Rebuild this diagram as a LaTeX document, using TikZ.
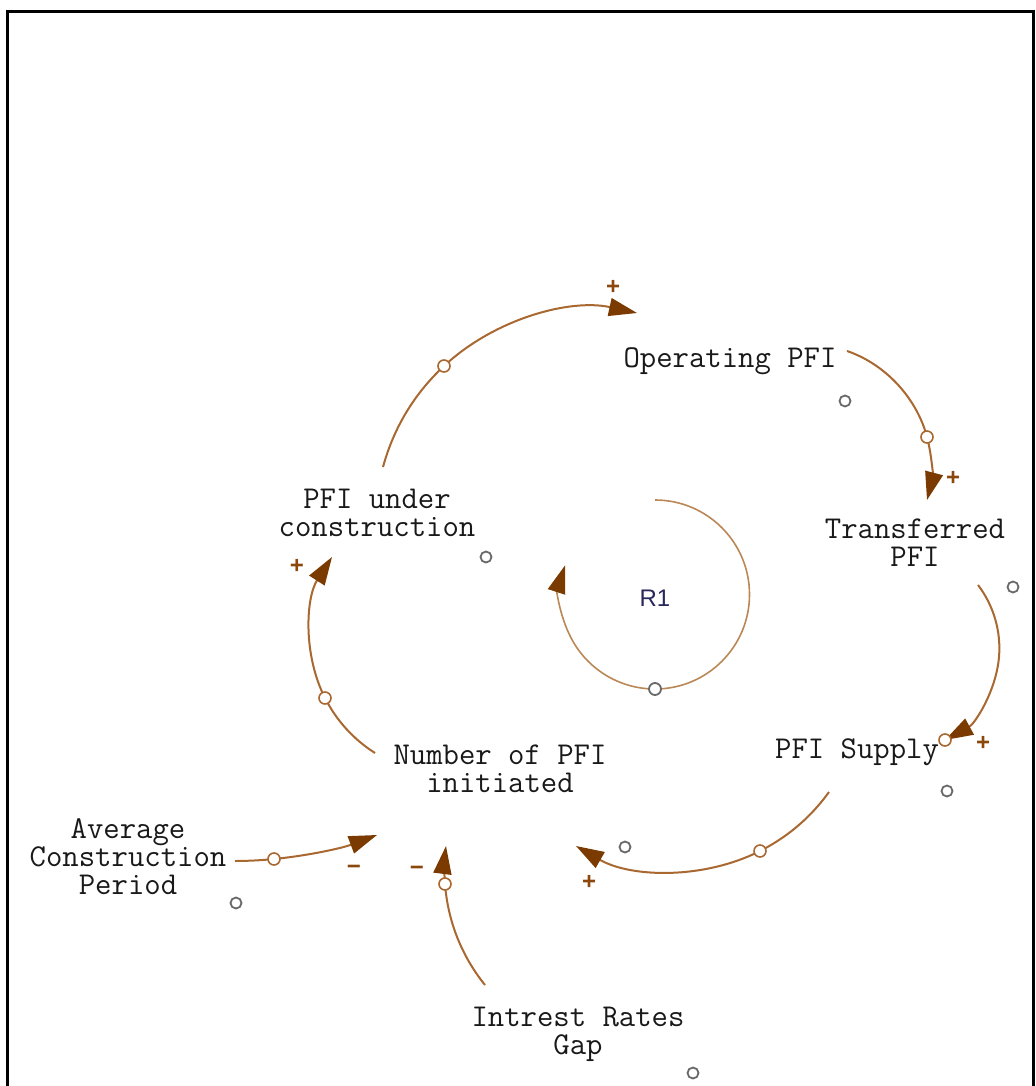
\documentclass[tikz,border=0pt]{standalone}
\usepackage{fontspec}
\newfontfamily\loopfont{Liberation Sans}
\usetikzlibrary{arrows.meta,calc}
\definecolor{linkcol}{RGB}{168,104,48}
\definecolor{tipcol}{RGB}{122,58,0}
\definecolor{signcol}{RGB}{140,72,12}
\definecolor{loopcol}{RGB}{186,136,86}
\definecolor{ghostcol}{RGB}{105,105,105}
\definecolor{loopname}{RGB}{40,40,90}

\begin{document}
\begin{tikzpicture}[x=0.5pt,y=0.5pt]
\tikzset{
  var/.style={align=center,inner sep=0pt,text=black!90,
    font=\ttfamily\fontsize{15.9}{14}\selectfont},
  link/.style={draw=linkcol,line width=1pt,looseness=0.88,
    -{Triangle[length=14pt,width=9pt,color=tipcol]}},
  handle/.style={circle,draw=linkcol,fill=white,line width=0.8pt,
    inner sep=0pt,minimum size=6pt},
  ghost/.style={draw=ghostcol,line width=0.9pt},
  sign/.style={text=signcol,inner sep=0pt,
    font=\loopfont\bfseries\fontsize{12}{12}\selectfont}
}
\useasboundingbox (0,0) rectangle (1036,-1086);
\draw [black,line width=1.5pt] (7,-1086) -- (7,-12) -- (1033,-12) -- (1033,-1086);

% variables
\node [var] (op) at (730,-361) {Operating PFI};
\node [var] (tp) at (915,-543) {Transferred\\PFI};
\node [var] (ps) at (857,-752) {PFI Supply};
\node [var] (ni) at (500,-769) {Number of PFI\\initiated};
\node [var] (puc) at (377,-513) {PFI under\\construction};
\node [var] (acp) at (128,-857) {Average\\Construction\\Period};
\node [var] (irg) at (578,-1034) {Intrest Rates\\Gap};
\node [text=loopname,inner sep=0pt,font=\loopfont\fontsize{12}{12}\selectfont] (r1) at (655,-598) {R1};

% links
\draw [link] ($(puc)+(6,46)$) to[out=74.7,in=223] (444,-366) node[handle]{}
  to[out=43,in=167.7] ($(op)+(-93,48)$);
\draw [link] ($(op)+(117,10)$) to[out=-18.8,in=104.7] (927,-437) node[handle]{}
  to[out=-75.3,in=75.3] ($(tp)+(12,43)$);
\draw [link] ($(tp)+(63,-42)$) to[out=-52.7,in=85.2] (999,-657)
  to[out=-94.8,in=28.6] ($(ps)+(88,12)$) node[handle]{};
\draw [link] ($(ps)+(-28,-40)$) to[out=-125.9,in=26.9] (760,-851) node[handle]{}
  to[out=-153.1,in=-30] ($(ni)+(76,-77)$);
\draw [link] ($(ni)+(-125,16)$) to[out=147.5,in=-62.9] (325,-698) node[handle]{}
  to[out=117.1,in=-122.7] ($(puc)+(-45,-44)$);
\draw [link] ($(acp)+(107,-4)$) to[out=0.2,in=185.7] (274,-859) node[handle]{}
  to[out=5.7,in=200.6] ($(ni)+(-123,-66)$);
\draw [link] ($(irg)+(-93,49)$) to[out=128.8,in=-85.6] (445,-884) node[handle]{}
  to[out=94.4,in=-97.4] ($(ni)+(-54,-77)$);

% loop R1
\draw [draw=loopcol,line width=0.8pt,-{Triangle[length=14pt,width=9pt,color=tipcol]}]
  ($(r1)+(0,98)$) arc[start angle=90,end angle=-198,radius=94.5];
\draw [ghost,fill=white] ($(r1)+(0,-91)$) circle (6);

% polarities
\node [sign] (s1) at (613,-287) {+};
\node [sign] (s2) at (953,-478) {+};
\node [sign] (s3) at (983,-743) {+};
\node [sign] (s4) at (589,-882) {+};
\node [sign] (s5) at (297,-566) {+};
\node [sign] (s6) at (354,-870) {−};
\node [sign] (s7) at (417,-871) {−};

% shadow handles
\draw [ghost] (845,-401) circle (5.5);
\draw [ghost] (486,-557) circle (5.5);
\draw [ghost] (1013,-587) circle (5.5);
\draw [ghost] (947,-791) circle (5.5);
\draw [ghost] (625,-847) circle (5.5);
\draw [ghost] (236,-903) circle (5.5);
\draw [ghost] (693,-1073) circle (5.5);
\end{tikzpicture}
\end{document}
